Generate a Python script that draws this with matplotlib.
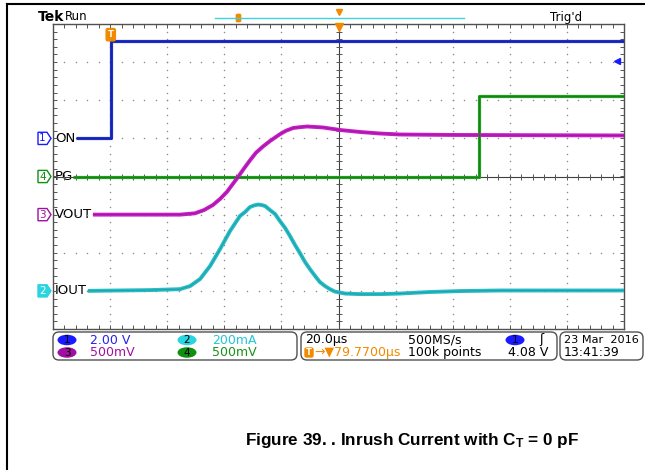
import numpy as np
import matplotlib
matplotlib.use("Agg")
import matplotlib.pyplot as plt
from matplotlib.patches import FancyBboxPatch, Ellipse, Polygon
from matplotlib.transforms import blended_transform_factory

plt.rcParams['mathtext.fontset'] = 'custom'
plt.rcParams['mathtext.bf'] = 'Liberation Sans:bold'
plt.rcParams['mathtext.rm'] = 'Liberation Sans'

W, H = 645, 470

# Acquisition settings
time_per_div = 20.0          # µs/div
trigger_delay = 79.77        # µs from trigger to screen centre
trigger_level = 4.08         # V on CH1

# Channel settings: scale per division and vertical position in divisions
ch_scale = {1: 2.0, 2: 200.0, 3: 0.5, 4: 0.5}
ch_pos = {1: 1.0, 2: -3.0, 3: -1.0, 4: 0.0}
ch_label = {1: "ON", 2: "IOUT", 3: "VOUT", 4: "PG"}

# CH1: ON (V), time in µs relative to screen centre
on_t = [-92.0, -79.77, -79.77, 100.0]
on_v = [0.0, 0.0, 5.1, 5.1]

# CH4: PG (V)
pg_t = [-93.0, 49.2, 49.2, 100.0]
pg_v = [0.0, 0.0, 1.05, 1.05]

# CH3: VOUT (V)
vout_t = [-86.0, -55.5, -50.3, -47.1, -44.0, -41.5, -39.1, -37.3, -35.2,
          -33.1, -31.0, -28.9, -26.4, -24.0, -20.5, -18.4, -15.9, -13.5,
          -11.0, -5.4, 0.5, 7.5, 14.5, 21.5, 39.1, 100.0]
vout_v = [0.0, 0.0, 0.017, 0.060, 0.126, 0.205, 0.297, 0.388, 0.493,
          0.605, 0.712, 0.812, 0.895, 0.965, 1.055, 1.100, 1.136, 1.147,
          1.156, 1.143, 1.110, 1.084, 1.064, 1.051, 1.045, 1.038]

# CH2: IOUT (mA)
iout_t = [-87.8, -66.0, -55.5, -52.0, -48.5, -45.0, -41.5, -38.0, -34.5,
          -32.7, -31.0, -29.6, -28.2, -26.8, -25.7, -24.0, -22.2, -20.5,
          -18.7, -17.0, -15.2, -13.5, -11.7, -10.0, -8.2, -6.5, -4.7,
          -3.0, -1.2, 2.3, 7.5, 14.5, 21.5, 32.0, 42.5, 56.6, 100.0]
iout_ma = [0, 4, 9, 25, 62, 130, 219, 314, 393,
           414, 440, 448, 453, 450, 445, 424, 403, 366,
           330, 288, 240, 198, 151, 114, 78, 46, 25,
           9, -4, -14, -17, -17, -14, -6, -1, 2, 2]

col = {1: "#1f2fc4", 2: "#27bcc6", 3: "#c61ec6", 4: "#1f9f1f"}
col_dark = {1: "#0a1590", 2: "#137c84", 3: "#7a0a7a", 4: "#0d600d"}
col_badge = {1: "#1a1aff", 2: "#2ad4e0", 3: "#a010a0", 4: "#109010"}
orange = "#f28a00"

fig = plt.figure(figsize=(W / 100, H / 100), dpi=100)
fig.patch.set_facecolor("white")

# Full-figure pixel overlay for frame, texts and readout boxes
ov = fig.add_axes([0, 0, 1, 1], zorder=0)
ov.set_xlim(0, W)
ov.set_ylim(H, 0)
ov.axis("off")

# Graticule axes: time (µs) vs divisions
gx0, gx1, gy0, gy1 = 53, 624, 24, 329
ax = fig.add_axes([gx0 / W, 1 - gy1 / H, (gx1 - gx0) / W, (gy1 - gy0) / H], zorder=2)
ax.patch.set_alpha(0)
ax.set_xlim(-5 * time_per_div, 5 * time_per_div)
ax.set_ylim(-4, 4)
ax.set_xticks([])
ax.set_yticks([])
for s in ax.spines.values():
    s.set_color("#505050")
    s.set_linewidth(1.0)

grid_c = "#8c8c8c"
minor_x = np.arange(-100, 100.1, time_per_div / 5)
minor_y = np.arange(-4, 4.01, 0.2)
# dotted division lines
for i in range(-4, 5):
    if i == 0:
        continue
    ax.scatter(np.full(minor_y.size, i * time_per_div), minor_y, s=1.2, c=grid_c, lw=0, zorder=1)
for j in range(-3, 4):
    if j == 0:
        continue
    ax.scatter(minor_x, np.full(minor_x.size, j), s=1.2, c=grid_c, lw=0, zorder=1)
# centre cross with minor ticks
ax.axhline(0, color="#404040", lw=0.8, zorder=1)
ax.axvline(0, color="#404040", lw=0.8, zorder=1)
ax.plot(minor_x, np.zeros_like(minor_x), ls="none", marker="|", ms=4.5, mew=0.7, color="#555555", zorder=1)
ax.plot(np.zeros_like(minor_y), minor_y, ls="none", marker="_", ms=4.5, mew=0.7, color="#555555", zorder=1)
# edge ticks
for yy in (-4, 4):
    ax.plot(minor_x, np.full(minor_x.size, yy), ls="none", marker="|", ms=6, mew=0.7, color="#555555", zorder=1)
for xx in (-100, 100):
    ax.plot(np.full(minor_y.size, xx), minor_y, ls="none", marker="_", ms=6, mew=0.7, color="#555555", zorder=1)


def to_div(ch, values):
    return ch_pos[ch] + np.asarray(values, dtype=float) / ch_scale[ch]


traces = [(1, on_t, on_v), (4, pg_t, pg_v), (3, vout_t, vout_v), (2, iout_t, iout_ma)]
for ch, t, v in traces:
    y = to_div(ch, v)
    lw = 2.3 if ch in (1, 4) else 2.8
    ax.plot(t, y, color=col[ch], lw=lw, solid_capstyle="butt", solid_joinstyle="round", zorder=3)
    ax.plot(t, y, color=col_dark[ch], lw=0.7, alpha=0.45, solid_joinstyle="round", zorder=3.1)
# thin vertical edges of the steps
ax.plot([on_t[1], on_t[2]], to_div(1, [on_v[1], on_v[2]]), color=col[1], lw=1.0, zorder=3)
ax.plot([pg_t[1], pg_t[2]], to_div(4, [pg_v[1], pg_v[2]]), color=col[4], lw=1.0, zorder=3)

# trigger position marker and screen-centre marker on top edge
trig_t = -trigger_delay
ax.text(trig_t, 3.72, "T", ha="center", va="center", fontsize=6, color="white", fontweight="bold",
        bbox=dict(boxstyle="round,pad=0.2", fc=orange, ec=orange), zorder=5, clip_on=False)
ax.plot([0], [3.93], marker="v", ms=6, color=orange, mec=orange, clip_on=False, zorder=5)
# trigger level arrow on right edge
ax.plot([97.5], [ch_pos[1] + trigger_level / ch_scale[1]], marker="<", ms=5, color=col_badge[1],
        clip_on=False, zorder=5)

# channel ground markers and labels on the left
bt = blended_transform_factory(ov.transData, ax.transData)
for ch in (1, 4, 3, 2):
    yc = ch_pos[ch]
    hh = 0.16
    pts = [(38, yc - hh), (47, yc - hh), (51, yc), (47, yc + hh), (38, yc + hh)]
    filled = ch == 2
    ov.add_patch(Polygon(pts, closed=True, transform=bt, fc=col_badge[ch] if filled else "white",
                         ec=col_badge[ch], lw=1.0, zorder=4, clip_on=False))
    ov.text(42.5, yc, str(ch), transform=bt, ha="center", va="center", fontsize=7.5,
            color="white" if filled else col_badge[ch], zorder=5)
    ov.text(55, yc, ch_label[ch], transform=bt, ha="left", va="center", fontsize=9.5,
            color="black", zorder=5, family="DejaVu Sans")

# outer frame
ov.plot([7, W], [4, 4], color="black", lw=1.5)
ov.plot([7, 7], [4, H], color="black", lw=1.5)

# header
ov.text(38, 17, "Tek", fontsize=10, fontweight="bold", va="center", ha="left", family="DejaVu Sans")
ov.text(65, 17, "Run", fontsize=8.5, va="center", ha="left", family="DejaVu Sans")
ov.text(550, 17, "Trig'd", fontsize=8.5, va="center", ha="left", family="DejaVu Sans")
ov.plot([215, 464], [18, 18], color="#3fd2dc", lw=1.0)
ov.add_patch(FancyBboxPatch((236, 14), 5, 8, boxstyle="round,pad=0,rounding_size=1.2",
                            fc=orange, ec=orange, lw=0.5))
ov.plot([339], [12], marker="v", ms=4, color=orange, mec=orange)

# readout boxes
box_ec = "#505050"
for (x0, x1) in ((53, 297), (301, 557), (560, 643)):
    ov.add_patch(FancyBboxPatch((x0, 332), x1 - x0, 28, boxstyle="round,pad=0,rounding_size=6",
                                fc="white", ec=box_ec, lw=1.0))

row1, row2 = 340, 352.5
fs = 9


def badge(x, y, ch):
    ov.add_patch(Ellipse((x, y), 19, 10.5, fc=col_badge[ch], ec="none"))
    ov.text(x, y + 0.3, str(ch), ha="center", va="center", fontsize=7.5, color="black")


badge(67, row1, 1)
ov.text(90, row1, "2.00 V", color="#2424ee", fontsize=fs, va="center", family="DejaVu Sans")
badge(187, row1, 2)
ov.text(212, row1, "200mA", color="#22c8d4", fontsize=fs, va="center", family="DejaVu Sans")
badge(67, row2, 3)
ov.text(90, row2, "500mV", color="#a010a0", fontsize=fs, va="center", family="DejaVu Sans")
badge(187, row2, 4)
ov.text(212, row2, "500mV", color="#189018", fontsize=fs, va="center", family="DejaVu Sans")

ov.text(305, row1, "20.0µs", color="black", fontsize=fs, va="center", family="DejaVu Sans")
ov.text(408, row1, "500MS/s", color="black", fontsize=fs, va="center", family="DejaVu Sans")
badge(515, row1, 1)
ov.text(539, row1, "ʃ", color="black", fontsize=fs, va="center", family="DejaVu Sans")
ov.add_patch(FancyBboxPatch((305, row2 - 4.5), 8, 9, boxstyle="round,pad=0,rounding_size=1.5",
                            fc=orange, ec=orange))
ov.text(309, row2, "T", color="white", fontsize=6, va="center", ha="center", fontweight="bold")
ov.text(314, row2, "→▼%.4fµs" % trigger_delay, color=orange, fontsize=fs, va="center", family="DejaVu Sans")
ov.text(408, row2, "100k points", color="black", fontsize=fs, va="center", family="DejaVu Sans")
ov.text(548, row2, "%.2f V" % trigger_level, color="black", fontsize=fs, va="center", ha="right",
        family="DejaVu Sans")
ov.text(601.5, row1, "23 Mar  2016", color="black", fontsize=8.1, va="center", ha="center",
        family="DejaVu Sans")
ov.text(564, row2, "13:41:39", color="black", fontsize=fs, va="center", family="DejaVu Sans")

# caption
ov.text(412, 441, r"Figure 39. . Inrush Current with $\mathbf{C_T}$ = 0 pF", ha="center", va="center",
        fontsize=12.3, fontweight="bold", family="Liberation Sans")

fig.savefig("out.png", dpi=100, facecolor="white")
